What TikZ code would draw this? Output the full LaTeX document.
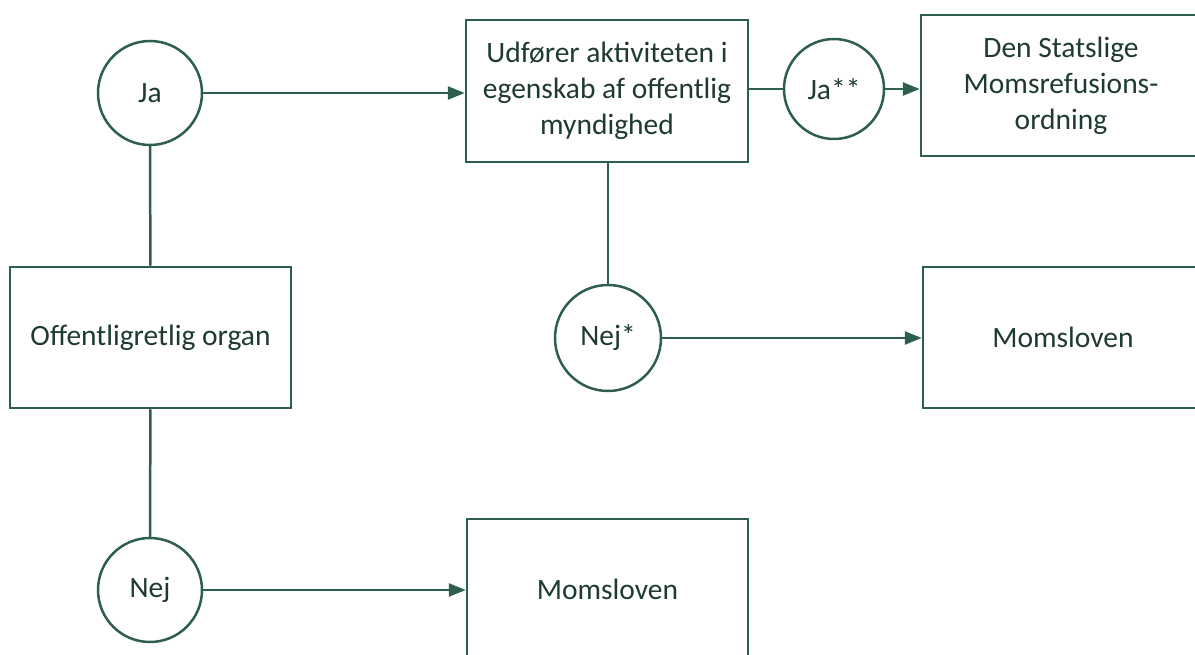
\documentclass[tikz,border=0pt]{standalone}
\usepackage{fontspec}
\setmainfont{Carlito}
\usetikzlibrary{arrows.meta}
\definecolor{dg}{HTML}{2E5E4C}
\definecolor{tx}{HTML}{1E3A32}
\begin{document}
\begin{tikzpicture}[x=1pt,y=-1pt,
  every node/.style={font=\fontsize{29.5}{36}\selectfont, text=tx, inner sep=0pt, line width=2.5pt, draw=dg},
  box/.style={rectangle, align=center},
  circ/.style={circle, fill=white},
  conn/.style={draw=dg, line width=2.5pt},
  arr/.style={conn, -{Triangle[length=17pt,width=13pt]}}]
\useasboundingbox (0,0) rectangle (1195,655);
\node[box, minimum width=282pt, minimum height=142pt] (ud) at (607,91) {Udfører aktiviteten i\\egenskab af offentlig\\myndighed};
\node[box, minimum width=280pt, minimum height=141pt] (den) at (1061,85.5) {Den Statslige\\Momsrefusions-\\ordning};
\node[box, minimum width=281pt, minimum height=141pt] (org) at (150.5,337.5) {Offentligretlig organ};
\node[box, minimum width=280pt, minimum height=141pt] (mr) at (1063,337.5) {Momsloven};
\node[box, minimum width=281pt, minimum height=141pt] (mb) at (607.5,589.5) {Momsloven};
\node[circ, minimum size=104pt] (ja) at (150,93) {Ja};
\node[circ, minimum size=100pt] (ja2) at (834,89) {Ja**};
\node[circ, minimum size=106pt] (nejs) at (608,338) {Nej*};
\node[circ, minimum size=104pt] (nej) at (150,590) {Nej};
\draw[conn] (ja) -- (org);
\draw[conn] (org) -- (nej);
\draw[arr] (ja) -- (ud.west |- ja);
\draw[conn] (ud.east |- ja2) -- (ja2);
\draw[arr] (ja2) -- (den.west |- ja2);
\draw[conn] (ud.south -| nejs) -- (nejs);
\draw[arr] (nejs) -- (mr.west |- nejs);
\draw[arr] (nej) -- (mb.west |- nej);
\end{tikzpicture}
\end{document}
